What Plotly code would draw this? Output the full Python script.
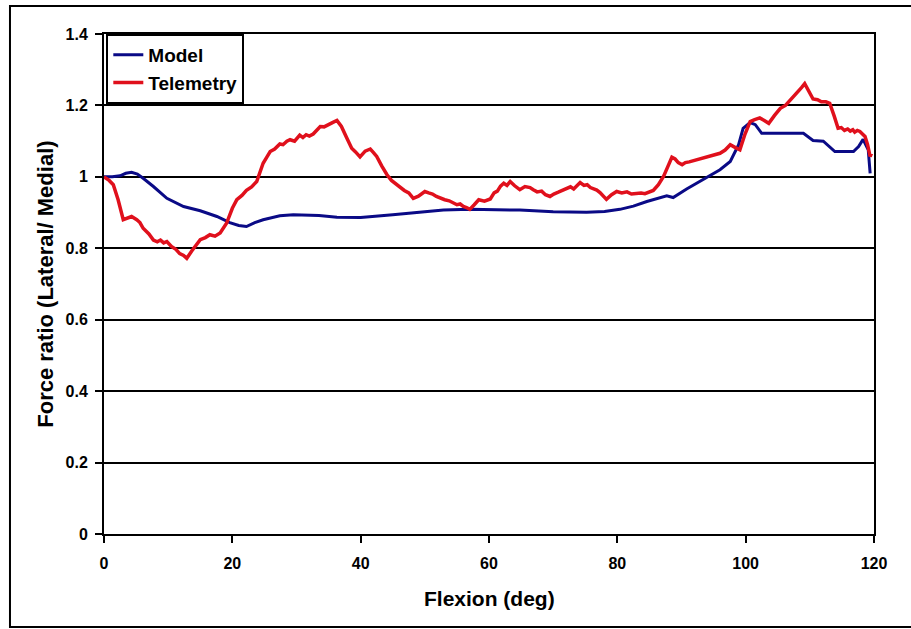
import plotly.graph_objects as go

model_x = [0, 1.3, 2.5, 3.4, 4.3, 5.2, 6.1, 7.7, 9.8, 12.4, 15.0, 17.6, 19.6, 21.0, 22.2, 23.5, 24.8, 27.4,
           29.5, 31.0, 33.5, 36.3, 40.0, 45.0, 50.0, 52.9, 57.0, 62.2, 64.8, 70.0, 75.2, 78.0, 80.4, 82.5,
           84.6, 87.7, 88.7, 90.8, 93.4, 96.0, 97.6, 98.9, 99.6, 100.7, 101.5, 102.5, 106.0, 109.0, 110.5,
           112.1, 113.9, 116.8, 117.6, 118.3, 119.1, 119.4]
model_y = [1.0, 1.0, 1.003, 1.01, 1.013, 1.008, 0.996, 0.973, 0.94, 0.917, 0.905, 0.889, 0.872, 0.864, 0.861,
           0.872, 0.88, 0.891, 0.894, 0.894, 0.892, 0.887, 0.886, 0.894, 0.903, 0.907, 0.909, 0.908, 0.907,
           0.902, 0.901, 0.903, 0.909, 0.918, 0.931, 0.947, 0.942, 0.966, 0.992, 1.02, 1.043, 1.09, 1.136,
           1.152, 1.146, 1.122, 1.122, 1.122, 1.102, 1.1, 1.071, 1.071, 1.085, 1.105, 1.076, 1.01]

tele_x = [0, 0.8, 1.45, 2.2, 3.0, 3.6, 4.3, 5.1, 5.6, 6.1, 7.0, 7.7, 8.3, 8.8, 9.3, 9.8, 10.5, 11.2,
          11.8, 12.4, 12.9, 13.7, 14.4, 15.0, 15.8, 16.5, 17.3, 18.1, 19.1, 20.0, 20.7, 21.5, 22.2, 23.0,
          23.8, 24.3, 24.8, 25.4, 25.9, 26.6, 27.4, 27.9, 28.5, 29.0, 29.7, 30.5, 31.0, 31.5, 32.0, 32.6,
          33.2, 33.7, 34.3, 35.0, 35.6, 36.3, 37.0, 37.8, 38.6, 39.2, 39.9, 40.7, 41.5, 42.0, 42.5, 43.3,
          44.1, 44.8, 45.6, 46.2, 46.8, 47.5, 48.2, 49.0, 50.0, 50.6, 51.2, 51.8, 52.4, 53.1, 53.8, 54.4,
          55.0, 55.5, 56.0, 56.5, 57.0, 57.7, 58.4, 59.3, 60.2, 60.8, 61.3, 61.8, 62.3, 62.8, 63.3, 64.0,
          64.8, 65.6, 66.4, 66.9, 67.5, 68.2, 68.8, 69.5, 70.1, 70.8, 71.5, 72.1, 72.7, 73.2, 73.7, 74.2,
          74.8, 75.3, 75.8, 76.3, 76.8, 77.3, 77.8, 78.3, 79.1, 79.9, 80.7, 81.5, 82.2, 83.0, 83.7, 84.3,
          85.0, 85.6, 86.4, 87.2, 87.9, 88.5, 89.0, 89.5, 90.1, 90.6, 91.2, 91.8, 92.3, 92.9, 93.6, 94.4,
          95.2, 96.0, 96.8, 97.6, 98.4, 99.1, 99.9, 100.7, 101.4, 102.2, 102.9, 103.6, 104.5, 105.4,
          106.2, 107.0, 107.6, 108.1, 108.7, 109.2, 109.8, 110.5, 111.2, 111.8, 112.5, 113.1, 113.8,
          114.4, 114.9, 115.4, 115.9, 116.3, 116.7, 117.0, 117.4, 117.8, 118.2, 118.6, 119.0, 119.4, 119.6]
tele_y = [1.0, 0.99, 0.978, 0.936, 0.88, 0.885, 0.889, 0.88, 0.872, 0.856, 0.84, 0.823, 0.818, 0.823,
          0.815, 0.819, 0.805, 0.797, 0.785, 0.78, 0.772, 0.793, 0.81, 0.824, 0.83, 0.838, 0.834, 0.843,
          0.87, 0.912, 0.936, 0.948, 0.962, 0.972, 0.987, 1.012, 1.038, 1.056, 1.071, 1.078, 1.092, 1.09,
          1.1, 1.104, 1.1, 1.117, 1.11, 1.118, 1.114, 1.12, 1.132, 1.141, 1.14, 1.148, 1.152, 1.158, 1.141,
          1.11, 1.08, 1.07, 1.056, 1.072, 1.078, 1.068, 1.057, 1.03, 1.006, 0.99, 0.978, 0.972, 0.962,
          0.955, 0.94, 0.946, 0.959, 0.955, 0.952, 0.945, 0.94, 0.936, 0.933, 0.928, 0.922, 0.924, 0.917,
          0.914, 0.909, 0.922, 0.936, 0.932, 0.938, 0.955, 0.96, 0.974, 0.982, 0.976, 0.987, 0.975, 0.964,
          0.973, 0.97, 0.964, 0.958, 0.96, 0.95, 0.945, 0.952, 0.957, 0.963, 0.968, 0.972, 0.966, 0.975,
          0.984, 0.976, 0.978, 0.97, 0.966, 0.963, 0.956, 0.948, 0.937, 0.95, 0.959, 0.955, 0.958, 0.952,
          0.954, 0.955, 0.953, 0.958, 0.962, 0.978, 1.001, 1.03, 1.055, 1.05, 1.04, 1.034, 1.04, 1.042,
          1.045, 1.048, 1.05, 1.055, 1.058, 1.062, 1.066, 1.075, 1.09, 1.082, 1.076, 1.12, 1.155, 1.16,
          1.165, 1.158, 1.15, 1.172, 1.192, 1.2, 1.216, 1.225, 1.235, 1.25, 1.261, 1.24, 1.218, 1.216,
          1.21, 1.21, 1.206, 1.17, 1.136, 1.138, 1.13, 1.134, 1.128, 1.132, 1.125, 1.13, 1.127, 1.12,
          1.113, 1.09, 1.057, 1.066]

x_ticks = [0, 20, 40, 60, 80, 100, 120]
y_ticks = [0, 0.2, 0.4, 0.6, 0.8, 1.0, 1.2, 1.4]
x_ticklabels = ["0", "20", "40", "60", "80", "100", "120"]
y_ticklabels = ["0", "0.2", "0.4", "0.6", "0.8", "1", "1.2", "1.4"]

FONT = "Liberation Sans, Arial, sans-serif"

fig = go.Figure()
fig.add_trace(go.Scatter(x=model_x, y=model_y, mode="lines", name="<b>Model</b>",
                         line=dict(color="#0a0a86", width=3)))
fig.add_trace(go.Scatter(x=tele_x, y=tele_y, mode="lines", name="<b>Telemetry</b>",
                         line=dict(color="#e0101c", width=3.5)))

tickfont = dict(size=16, family=FONT, color="black")

fig.update_layout(
    width=911, height=629,
    margin=dict(l=104, r=37, t=34, b=95),
    paper_bgcolor="white", plot_bgcolor="white",
    font=dict(family=FONT, color="black"),
    showlegend=True,
    legend=dict(x=0.003, y=1.0, xanchor="left", yanchor="top",
                bordercolor="black", borderwidth=2, bgcolor="white",
                font=dict(size=19, family=FONT, color="black"),
                tracegroupgap=0, itemwidth=30),
    xaxis=dict(range=[0, 120], tickvals=x_ticks, ticktext=["<b>%s</b>" % t for t in x_ticklabels],
               ticks="outside", ticklen=7, tickwidth=2,
               tickcolor="black", showline=True, linecolor="black", linewidth=2, mirror=True,
               showgrid=False, zeroline=False,
               tickfont=tickfont, ticklabelstandoff=7),
    yaxis=dict(range=[0, 1.4], tickvals=y_ticks, ticktext=["<b>%s</b>" % t for t in y_ticklabels],
               ticks="outside", ticklen=7, tickwidth=2,
               tickcolor="black", showline=True, linecolor="black", linewidth=2, mirror=True,
               showgrid=True, gridcolor="black", gridwidth=2, zeroline=False,
               tickfont=tickfont, ticklabelstandoff=4),
    annotations=[
        dict(text="<b>Flexion (deg)</b>", x=0.5, y=-0.128, xref="paper", yref="paper",
             xanchor="center", yanchor="middle", showarrow=False,
             font=dict(size=21, family=FONT, color="black")),
        dict(text="<b>Force ratio (Lateral/ Medial)</b>", x=-0.077, y=0.5, xref="paper", yref="paper",
             xanchor="center", yanchor="middle", showarrow=False, textangle=-90,
             font=dict(size=22, family=FONT, color="black")),
    ],
    shapes=[dict(type="rect", xref="paper", yref="paper", x0=-0.1221, x1=1.06, y0=-0.186, y1=1.056,
                 line=dict(color="black", width=2), layer="below")],
)

fig.write_html("out.html")
